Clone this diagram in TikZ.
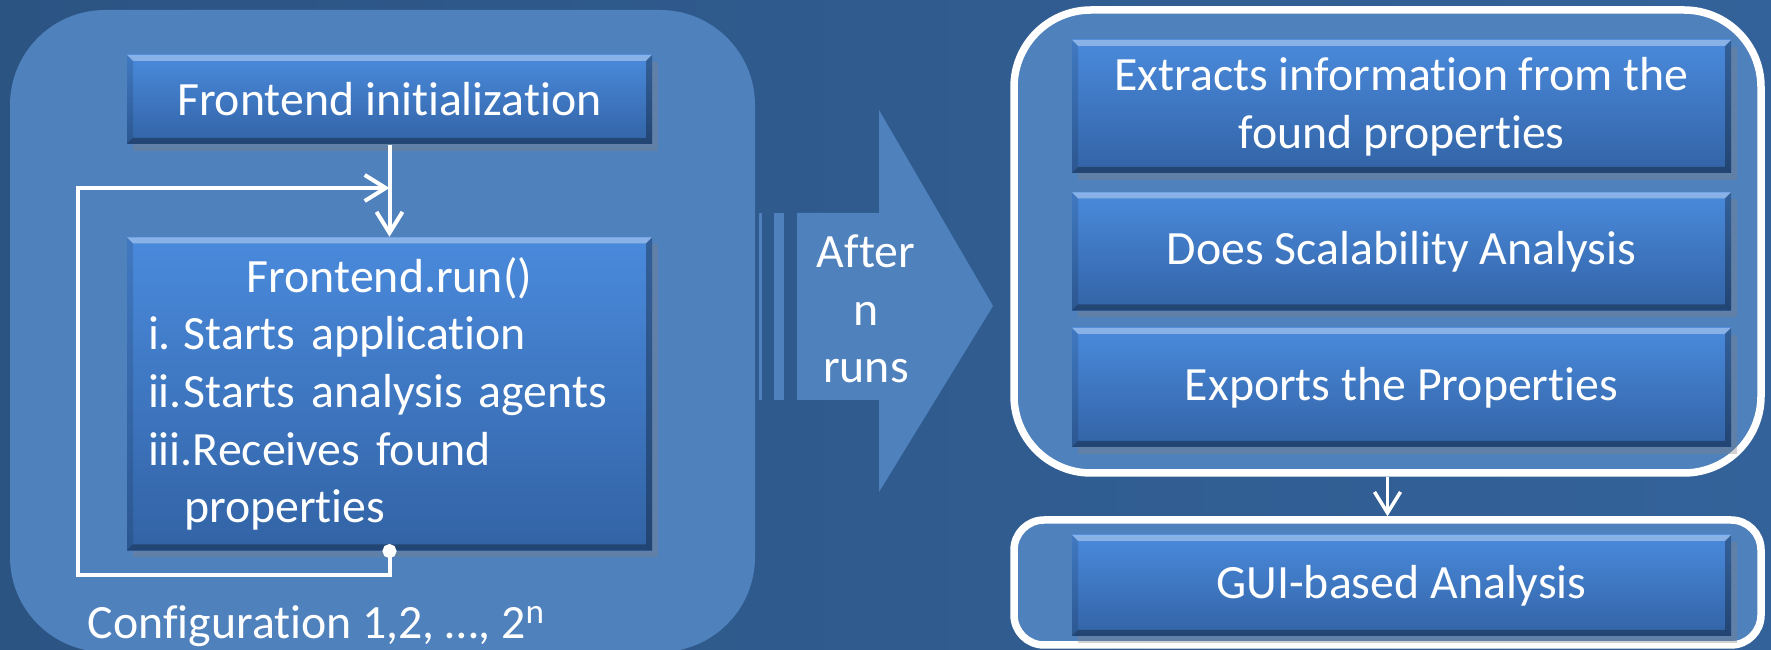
\documentclass[tikz,border=0pt]{standalone}
\usepackage{fontspec}
\setmainfont{Carlito}[Ligatures=NoCommon]
\usetikzlibrary{arrows.meta,shadows,positioning}

\definecolor{bgdark}{HTML}{2C5483}
\definecolor{bglight}{HTML}{33629A}
\definecolor{panelblue}{HTML}{4F81BD}
\definecolor{boxtop}{HTML}{4A8ADC}
\definecolor{boxbottom}{HTML}{3263A5}

\begin{document}
\begin{tikzpicture}[
			x=0.1mm, y=-0.1mm,
			font=\fontsize{13.6}{16.4}\selectfont,
			>={Straight Barb[length=2.1mm,width=2.6mm]},
			box/.style={
					rectangle,
					top color=boxtop,
					bottom color=boxbottom,
					text=white,
					inner sep=0pt,
					align=center,
					drop shadow={opacity=0.35, shadow xshift=0.6mm, shadow yshift=-0.7mm},
					path picture={
							\coordinate (bnw) at (path picture bounding box.north west);
							\coordinate (bne) at (path picture bounding box.north east);
							\coordinate (bsw) at (path picture bounding box.south west);
							\coordinate (bse) at (path picture bounding box.south east);
							\fill[white, opacity=0.35] (bnw) -- (bne) -- ([shift={(-0.6mm,-0.6mm)}]bne) -- ([shift={(0.6mm,-0.6mm)}]bnw) -- cycle;
							\fill[black, opacity=0.3] (bne) -- (bse) -- ([shift={(-0.6mm,0.6mm)}]bse) -- ([shift={(-0.6mm,-0.6mm)}]bne) -- cycle;
							\fill[black, opacity=0.3] (bsw) -- (bse) -- ([shift={(-0.6mm,0.6mm)}]bse) -- ([shift={(0.6mm,0.6mm)}]bsw) -- cycle;
							\fill[black, opacity=0.12] (bnw) -- (bsw) -- ([shift={(0.6mm,0.6mm)}]bsw) -- ([shift={(0.6mm,-0.6mm)}]bnw) -- cycle;
						}
				},
			panel/.style={
					rectangle,
					fill=panelblue,
					inner sep=0pt
				},
			framed/.style={panel, draw=white, line width=0.75mm},
			flow/.style={white, line width=0.4mm}
		]

		% Background
		\useasboundingbox (0,0) rectangle (1771,650);
		\clip (0,0) rectangle (1771,650);
		\shade[left color=bgdark, right color=bglight] (0,0) rectangle (1771,650);

		% Panels
		\node[panel, rounded corners=9.5mm, minimum width=74.5mm, minimum height=64.2mm] (leftpanel) at (382.5,331) {};
		\node[framed, rounded corners=7.7mm, minimum width=74.7mm, minimum height=46.3mm] (rightpanel) at (1387.5,241.5) {};
		\node[framed, rounded corners=3mm, minimum width=74.7mm, minimum height=12.5mm] (guipanel) at (1387.5,582.5) {};

		% Block arrow
		\fill[panelblue] (759,213) rectangle (762,400);
		\fill[panelblue] (774,213) rectangle (784,400);
		\fill[panelblue] (797,213) -- (879,213) -- (879,110) -- (993,306) -- (879,492) -- (879,400) -- (797,400) -- cycle;
		\node[text=white, align=center, inner sep=0pt] (after) at (866,309) {After\\n\\runs};

		% Nodes
		\node[box, minimum width=52.5mm, minimum height=8.9mm] (init) at (389.5,99.5) {Frontend initialization};
		\node[box, below=9.2mm of init, minimum width=52.5mm, minimum height=31.3mm, text width=48.3mm, align=left] (run)
		{\makebox[48.3mm]{Frontend.run()}\\
			\makebox[3.6mm][l]{i.}Starts application\\
			\makebox[3.6mm][l]{ii.}Starts analysis agents\\
			iii.Receives found\\
			\hspace*{3.6mm}properties};
		\node[text=white, anchor=base west, inner sep=0pt] (config) at (87,639) {Configuration 1,2, …, 2{\fontsize{10}{12}\selectfont\raisebox{0.9ex}{n}}};

		\node[box, minimum width=65.9mm, minimum height=13.3mm] (extract) at (1401.5,106.5) {Extracts information from the\\found properties};
		\node[box, below=1.8mm of extract, minimum width=65.9mm, minimum height=11.8mm] (scal) {Does Scalability Analysis};
		\node[box, below=1.6mm of scal, minimum width=65.9mm, minimum height=11.9mm] (export) {Exports the Properties};
		\node[box, minimum width=65.9mm, minimum height=10.1mm] (gui) at (1401.5,585.5) {GUI-based Analysis};

		\coordinate (loopin) at (init.south |- 0,188);

		% Arrows
		\draw[flow, ->] (init) -- (run);
		\draw[flow, {Circle[length=1.4mm]}->] ([yshift=0.7mm]run.south) |- (78,575) |- (loopin);
		\draw[flow, ->, line width=0.35mm] (rightpanel) -- (guipanel);

	\end{tikzpicture}
\end{document}
